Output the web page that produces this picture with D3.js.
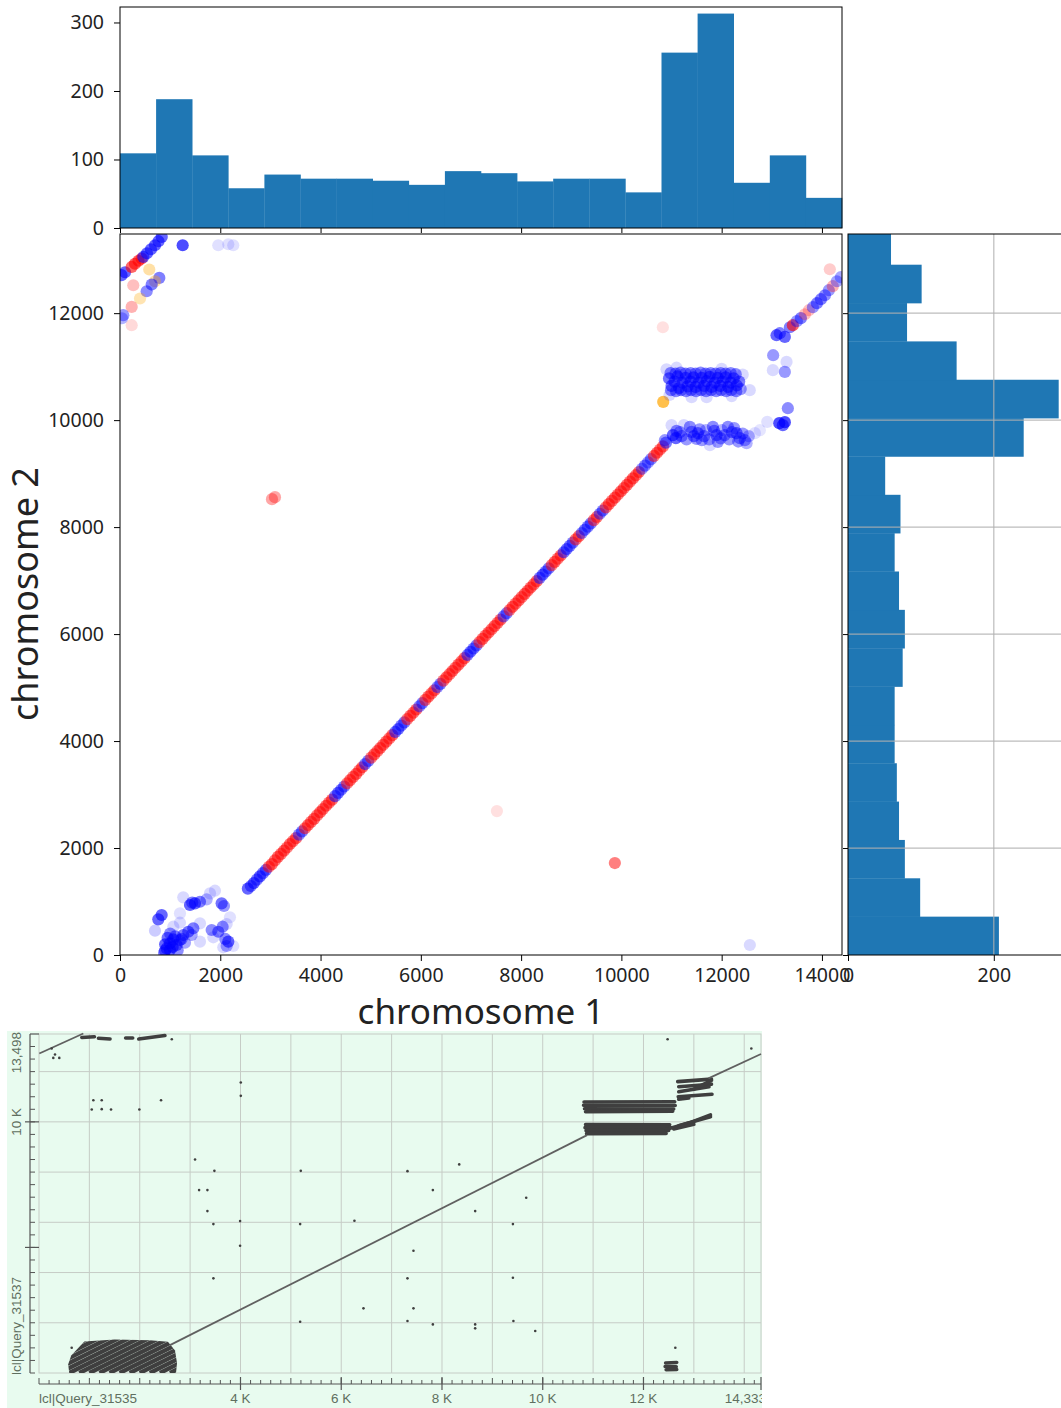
<!DOCTYPE html>
<html>
<head>
<meta charset="utf-8">
<script src="https://cdn.jsdelivr.net/npm/d3@7"></script>
<style>
body { margin: 0; background: #fff; }
svg text { font-family: "Noto Sans", sans-serif; }
.blast text { font-family: "Liberation Sans", Arial, sans-serif; }
</style>
</head>
<body>
<svg id="chart" width="1061" height="1408"></svg>
<script>
// ---------- histogram data ----------
var topEdges = [0,720,1440,2160,2880,3600,4320,5040,5760,6480,7200,7920,8640,9360,10080,10800,11520,12240,12960,13680,14400];
var topCounts = [109,188,106,58,78,72,72,69,63,83,80,68,72,72,52,256,313,66,106,44];
var rightEdges = [0,717,1434,2151,2868,3585,4302,5019,5736,6453,7170,7887,8604,9321,10038,10755,11472,12189,12906,13623];
var rightCounts = [207,99,78,70,67,64,64,75,78,70,64,72,51,241,289,149,81,101,59];

var xTicks = [0,2000,4000,6000,8000,10000,12000,14000];
var yTicks = [0,2000,4000,6000,8000,10000,12000];
var topTicks = [0,100,200,300];
var rightTicks = [0,200];

// ---------- scatter data: [chr1, chr2, colour, alpha] ----------
var diagPts = [
[2550,1240,"b",.6],[2670,1345,"b",.6],[2790,1470,"b",.6],[2910,1590,"b",.55],
[3030,1700,"r",.55],[3150,1835,"r",.55],[3270,1950,"r",.55],[3390,2075,"r",.55],
[3510,2185,"r",.55],[3630,2310,"b",.5],[3750,2430,"r",.55],[3870,2545,"r",.55],
[3990,2670,"r",.55],[4110,2790,"r",.55],[4230,2905,"r",.55],[4350,3030,"b",.55],
[4470,3150,"b",.5],[4590,3270,"r",.55],[4710,3385,"r",.55],[4830,3510,"r",.55],
[4950,3630,"b",.5],[5070,3750,"r",.55],[5190,3870,"r",.55],[5310,3990,"r",.55],
[5430,4110,"r",.55],[5550,4225,"b",.55],[5670,4350,"b",.5],[5790,4470,"r",.55],
[5910,4590,"r",.55],[6030,4710,"b",.5],[6150,4830,"r",.55],[6270,4950,"r",.55],
[6390,5070,"b",.5],[6510,5190,"r",.55],[6630,5310,"r",.55],[6750,5430,"r",.55],
[6870,5550,"r",.55],[6990,5670,"b",.55],[7110,5790,"b",.5],[7230,5910,"r",.55],
[7350,6030,"r",.55],[7470,6150,"r",.55],[7590,6270,"r",.55],[7710,6390,"b",.5],
[7830,6510,"r",.55],[7950,6630,"r",.55],[8070,6750,"r",.55],[8190,6870,"r",.55],
[8310,6990,"r",.55],[8430,7110,"b",.55],[8550,7230,"b",.5],[8670,7350,"r",.55],
[8790,7470,"r",.55],[8910,7590,"b",.55],[9030,7710,"b",.5],[9150,7830,"r",.55],
[9270,7950,"b",.5],[9390,8070,"b",.5],[9510,8190,"r",.55],[9630,8310,"b",.5],
[9750,8430,"r",.55],[9870,8550,"r",.55],[9990,8670,"r",.55],[10110,8790,"r",.55],
[10230,8910,"r",.55],[10350,9030,"r",.55],[10470,9150,"b",.45],[10590,9270,"b",.45],
[10710,9390,"r",.55],[10830,9510,"r",.5]
];
var diagPtsMid = [
[2610,1290,"b",.5],[2730,1410,"b",.5],[2850,1530,"b",.5],[2970,1650,"r",.5],
[3090,1770,"r",.5],[3210,1890,"r",.5],[3330,2010,"r",.5],[3450,2130,"r",.5],
[3570,2250,"b",.45],[3690,2370,"r",.5],[3810,2490,"r",.5],[3930,2610,"r",.5],
[4050,2730,"r",.5],[4170,2850,"r",.5],[4290,2970,"b",.5],[4410,3090,"b",.5],
[4530,3210,"r",.5],[4650,3330,"r",.5],[4770,3450,"r",.5],[4890,3570,"b",.5],
[5010,3690,"r",.5],[5130,3810,"r",.5],[5250,3930,"r",.5],[5370,4050,"r",.5],
[5490,4170,"b",.5],[5610,4290,"b",.5],[5730,4410,"r",.5],[5850,4530,"r",.5],
[5970,4650,"b",.45],[6090,4770,"r",.5],[6210,4890,"r",.5],[6330,5010,"b",.45],
[6450,5130,"r",.5],[6570,5250,"r",.5],[6690,5370,"r",.5],[6810,5490,"r",.5],
[6930,5610,"b",.5],[7050,5730,"b",.5],[7170,5850,"r",.5],[7290,5970,"r",.5],
[7410,6090,"r",.5],[7530,6210,"r",.5],[7650,6330,"b",.45],[7770,6450,"r",.5],
[7890,6570,"r",.5],[8010,6690,"r",.5],[8130,6810,"r",.5],[8250,6930,"r",.5],
[8370,7050,"b",.5],[8490,7170,"b",.5],[8610,7290,"r",.5],[8730,7410,"r",.5],
[8850,7530,"b",.5],[8970,7650,"b",.5],[9090,7770,"r",.5],[9210,7890,"b",.45],
[9330,8010,"b",.5],[9450,8130,"r",.5],[9570,8250,"b",.45],[9690,8370,"r",.5],
[9810,8490,"r",.5],[9930,8610,"r",.5],[10050,8730,"r",.5],[10170,8850,"r",.5],
[10290,8970,"r",.5],[10410,9090,"b",.4],[10530,9210,"b",.4],[10650,9330,"r",.5],
[10770,9450,"r",.5],[10890,9580,"b",.5]
];

var bandHighPts = [
[10950,10780,"b",.55],[11000,10640,"b",.55],[11060,10720,"b",.55],[11120,10820,"b",.55],
[11150,10600,"b",.55],[11220,10700,"b",.55],[11280,10790,"b",.55],[11320,10630,"b",.55],
[11380,10720,"b",.55],[11440,10800,"b",.55],[11480,10620,"b",.55],[11540,10700,"b",.55],
[11600,10790,"b",.55],[11650,10640,"b",.55],[11700,10730,"b",.55],[11760,10810,"b",.55],
[11800,10620,"b",.55],[11860,10700,"b",.55],[11920,10790,"b",.55],[11970,10640,"b",.55],
[12020,10720,"b",.55],[12080,10800,"b",.55],[12130,10620,"b",.55],[12180,10700,"b",.55],
[12240,10780,"b",.55],[12300,10650,"b",.55],[12350,10720,"b",.5],
[10980,10880,"b",.45],[11080,10870,"b",.45],[11180,10890,"b",.45],[11280,10870,"b",.45],
[11380,10880,"b",.45],[11480,10870,"b",.45],[11580,10890,"b",.45],[11680,10870,"b",.45],
[11780,10880,"b",.45],[11880,10870,"b",.45],[11980,10880,"b",.45],[12080,10870,"b",.45],
[12180,10880,"b",.45],[12280,10860,"b",.45],
[10990,10560,"b",.45],[11090,10540,"b",.45],[11190,10560,"b",.45],[11290,10540,"b",.45],
[11390,10560,"b",.45],[11490,10540,"b",.45],[11590,10560,"b",.45],[11690,10540,"b",.45],
[11790,10560,"b",.45],[11890,10540,"b",.45],[11990,10560,"b",.45],[12090,10540,"b",.45],
[12190,10560,"b",.45],[12290,10540,"b",.45],[12380,10580,"b",.4],
[10900,10950,"b",.15],[11100,10980,"b",.15],[11400,10430,"b",.15],[11700,10430,"b",.15],
[12000,10960,"b",.15],[12420,10850,"b",.15],[12560,10560,"b",.15],[12200,10450,"b",.15],
[10960,10470,"b",.15]
];

var bandLowPts = [
[11001,9906,"b",.15],[11027,9719,"b",.6],[11087,9663,"b",.6],[11167,9775,"b",.4],
[11366,9874,"b",.45],[11446,9700,"b",.5],[11525,9756,"b",.5],[11605,9625,"b",.4],
[11685,9812,"b",.3],[11825,9874,"b",.45],[11898,9719,"b",.5],[11924,9594,"b",.4],
[12004,9812,"b",.3],[12124,9874,"b",.45],[12204,9775,"b",.45],[12297,9756,"b",.5],
[12363,9663,"b",.45],[12463,9625,"b",.4],[12497,9569,"b",.3],[12663,9756,"b",.12],
[12762,9812,"b",.1],[11246,9906,"b",.15],[11765,9532,"b",.15],[10867,9625,"b",.4],
[11100,9800,"b",.45],[11200,9700,"b",.45],[11300,9640,"b",.4],[11400,9780,"b",.45],
[11500,9650,"b",.4],[11560,9830,"b",.4],[11650,9700,"b",.45],[11750,9640,"b",.4],
[11850,9800,"b",.45],[11980,9660,"b",.4],[12060,9720,"b",.45],[12150,9640,"b",.4],
[12250,9850,"b",.4],[12330,9600,"b",.4],[12420,9750,"b",.4],[12540,9700,"b",.3]
];

var upperRightPts = [
[13094,11588,"b",.6],[13260,11556,"b",.6],[13160,11625,"b",.5],[13027,11214,"b",.4],
[13294,11089,"b",.15],[13021,10934,"b",.15],[13260,10902,"b",.4],[13320,10223,"b",.45],
[12909,9968,"b",.12],[13149,9943,"b",.7],[13260,9962,"b",.7],[13220,9906,"b",.6],
[13360,11737,"b",.5],[13420,11775,"r",.6],[13500,11850,"b",.4],[13580,11906,"b",.5],
[13660,11980,"r",.25],[13740,12055,"r",.25],[13820,12111,"b",.4],[13900,12186,"b",.5],
[13980,12261,"b",.5],[14060,12335,"b",.45],[14137,12429,"b",.4],[14217,12504,"r",.3],
[14297,12597,"b",.35],[14377,12672,"b",.35],[14157,12821,"r",.2]
];

var cornerPts = [
[30,12710,"b",.6],[100,12765,"b",.6],[233,12864,"r",.6],[299,12924,"r",.6],
[369,12980,"r",.6],[433,13021,"r",.55],[465,13051,"b",.55],[538,13120,"b",.6],
[618,13195,"b",.6],[698,13270,"b",.6],[768,13345,"b",.6],[832,13425,"b",.6],
[1250,13270,"b",.7],[1960,13270,"b",.12],[2160,13288,"b",.12],[2259,13270,"b",.12],
[584,12816,"o",.35],[265,12522,"r",.25],[784,12659,"b",.5],[698,12597,"o",.35],
[632,12535,"b",.5],[532,12410,"b",.45],[399,12274,"o",.3],[233,12117,"r",.3],
[66,11962,"b",.4],[40,11905,"b",.3],[233,11775,"r",.15]
];

var clusterPts = [
[831,748,"b",.6],[764,667,"b",.6],[698,454,"b",.2],[931,125,"b",.6],[997,219,"b",.6],
[1063,293,"b",.6],[1130,187,"b",.55],[1196,280,"b",.5],[1262,374,"b",.5],[1362,435,"b",.55],
[1462,499,"b",.5],[1429,374,"b",.35],[1296,230,"b",.35],[997,93,"b",.6],[897,80,"b",.5],
[1496,966,"b",.6],[1595,996,"b",.5],[1396,935,"b",.6],[1262,1078,"b",.15],[1728,1041,"b",.3],
[1894,1202,"b",.15],[1795,1153,"b",.15],[2027,966,"b",.55],[2074,916,"b",.4],[1828,467,"b",.45],
[1961,435,"b",.5],[2047,529,"b",.45],[2127,579,"b",.15],[2160,249,"b",.6],[2127,168,"b",.35],
[2193,705,"b",.12],[1595,592,"b",.15],[1196,604,"b",.15],[1063,529,"b",.15],[1595,249,"b",.15],
[1861,331,"b",.15],[2060,144,"b",.15],[2259,168,"b",.12],[1196,779,"b",.12],
[900,200,"b",.6],[950,320,"b",.55],[1050,150,"b",.6],[1100,350,"b",.5],[1000,400,"b",.45],
[880,40,"b",.5],[1150,90,"b",.45],[1230,300,"b",.45],[1440,980,"b",.5],[2100,300,"b",.45]
];

var strayPts = [
[10834,10341,"o",.7],[10827,11737,"r",.12],[12562,187,"b",.15],[9870,1719,"r",.5],
[7517,2691,"r",.12],[3091,8560,"r",.35],[3031,8523,"r",.35]
];

// ---------- BLAST dot plot data ----------
var blastLines = [[2600,1110,10880,9470],[13290,11730,14333,12700],[6,12722,880,13518]];
var blastHatch = [
[2600,0,3000,400],[2400,0,3000,600],[2200,0,3000,800],[2000,0,3000,1000],[1800,0,3000,1200],
[1600,0,3000,1400],[1400,0,2800,1400],[1200,0,2600,1400],[1000,0,2400,1400],[800,0,2200,1400],
[600,0,2000,1400],[400,0,1800,1400],[200,0,1600,1400],[0,0,1400,1400],[0,200,1200,1400],
[0,400,1000,1400],[0,600,800,1400]
];
var blastBlockOutline = [[600,0],[580,350],[640,700],[900,1250],[1500,1330],[2200,1300],[2560,1240],[2700,900],[2740,400],[2720,0]];
var blastBands = [
[10820,10790,12620,10800],[10810,10660,12630,10650],[10830,10520,12600,10510],[10850,10400,12580,10420],
[10850,9890,12520,9880],[10840,9770,12540,9770],[10860,9650,12500,9660],[10870,9530,12450,9540],
[12450,9700,12900,9950],[12700,9850,13330,10200],[12900,9950,13330,10280],[12600,9720,13000,9900],
[12680,11600,13350,11700],[12700,11400,13350,11500],[12700,11200,13300,11400],[12690,11000,13360,11100],
[12700,10900,12900,10950],[13000,11300,13350,11650],
[12440,400,12660,420],[12430,260,12650,250],[12450,130,12660,140],
[850,13360,1100,13390],[1180,13330,1410,13300],[1720,13340,1860,13340],[1980,13300,2500,13440]
];
var blastDots = [
[649,1007],[12632,1007],[12479,13291],[14141,12921],[2636,13291],
[252,12921],[318,12682],[403,12547],[284,12547],
[7315,8038],[8342,8305],[7819,7282],[8659,6446],[9672,6976],[9408,5929],[7434,4868],
[7315,3768],[9408,3793],[7434,2574],[7315,2069],[7819,1936],[8659,1936],[8659,1778],
[9418,2069],[9851,1671],
[4006,11567],[4006,11035],[1079,10863],[1245,10863],[2423,10863],[1047,10493],[1245,10505],
[1430,10493],[1992,10493],[3098,8503],[3482,8050],[5197,8050],[3178,7282],[3343,7282],
[3343,6446],[3462,5929],[3992,6049],[5184,5929],[6262,6061],[3992,5066],[3462,3768],
[6441,2574],[5184,2041]
];
var blastXTicks = [4000,6000,8000,10000,12000];
var blastXLabels = ["4 K","6 K","8 K","10 K","12 K"];
var blastYMajor = [5000,10000];

var colour = {b: "#0000ff", r: "#ff0000", o: "#ffa500"};

var svg = d3.select("#chart");

// ---------- scales ----------
var x = d3.scaleLinear().domain([0, 14400]).range([120, 842]);
var y = d3.scaleLinear().domain([0, 13480]).range([955, 234]);
var yTop = d3.scaleLinear().domain([0, 322.6]).range([228, 7]);
var xRight = d3.scaleLinear().domain([0, 310]).range([848, 1074]);
var plain = d3.format("d");

var defs = svg.append("defs");
defs.append("clipPath").attr("id", "clipScatter").append("rect")
	.attr("x", 120).attr("y", 234).attr("width", 722).attr("height", 721);
defs.append("clipPath").attr("id", "clipRight").append("rect")
	.attr("x", 848).attr("y", 234).attr("width", 240).attr("height", 721);

function styleAxis(g, size){
	g.select(".domain").remove();
	g.selectAll(".tick line").attr("stroke", "#000").attr("stroke-width", 1);
	g.selectAll(".tick text").attr("font-size", size).attr("fill", "#222")
		.attr("font-family", "Noto Sans, sans-serif");
}

// ---------- top histogram ----------
var topG = svg.append("g");
topG.selectAll("rect.bar").data(topCounts).enter().append("rect")
	.attr("class", "bar")
	.attr("x", function(d, i){ return x(topEdges[i]); })
	.attr("width", function(d, i){ return x(topEdges[i+1]) - x(topEdges[i]) + 0.3; })
	.attr("y", function(d){ return yTop(d); })
	.attr("height", function(d){ return yTop(0) - yTop(d); })
	.attr("fill", "#1f77b4");
topG.append("g").attr("transform", "translate(120,0)")
	.call(d3.axisLeft(yTop).tickValues(topTicks).tickSize(6).tickPadding(10).tickFormat(plain))
	.call(styleAxis, 19.5);
topG.append("g").attr("transform", "translate(0,228)")
	.call(d3.axisBottom(x).tickValues(xTicks).tickSize(5).tickFormat(""))
	.call(styleAxis, 19.5);
topG.append("rect").attr("x", 120).attr("y", 7).attr("width", 722).attr("height", 221)
	.attr("fill", "none").attr("stroke", "#000").attr("stroke-width", 1);

// ---------- scatter ----------
var scG = svg.append("g");
var ptsG = scG.append("g").attr("clip-path", "url(#clipScatter)");
[strayPts, cornerPts, clusterPts, diagPts, diagPtsMid, bandLowPts, bandHighPts, upperRightPts].forEach(function(set){
	ptsG.selectAll(null).data(set).enter().append("circle")
		.attr("cx", function(d){ return x(d[0]); })
		.attr("cy", function(d){ return y(d[1]); })
		.attr("r", 6.1)
		.attr("fill", function(d){ return colour[d[2]]; })
		.attr("fill-opacity", function(d){ return d[3]; });
});
scG.append("g").attr("transform", "translate(120,0)")
	.call(d3.axisLeft(y).tickValues(yTicks).tickSize(6).tickPadding(10).tickFormat(plain))
	.call(styleAxis, 19.5);
scG.append("g").attr("transform", "translate(0,955)")
	.call(d3.axisBottom(x).tickValues(xTicks).tickSize(6).tickPadding(7).tickFormat(plain))
	.call(styleAxis, 19.5);
scG.append("rect").attr("x", 120).attr("y", 234).attr("width", 722).attr("height", 721)
	.attr("fill", "none").attr("stroke", "#000").attr("stroke-width", 1);

scG.append("text").attr("x", 481).attr("y", 1024).attr("text-anchor", "middle")
	.attr("font-size", 35).attr("fill", "#222").text("chromosome 1");
scG.append("text").attr("transform", "translate(38,594) rotate(-90)").attr("text-anchor", "middle")
	.attr("font-size", 36).attr("fill", "#222").text("chromosome 2");

// ---------- right histogram ----------
var rG = svg.append("g");
rG.append("g").attr("clip-path", "url(#clipRight)")
	.selectAll("rect").data(rightCounts).enter().append("rect")
	.attr("x", xRight(0))
	.attr("width", function(d){ return xRight(d) - xRight(0); })
	.attr("y", function(d, i){ return y(rightEdges[i+1]); })
	.attr("height", function(d, i){ return y(rightEdges[i]) - y(rightEdges[i+1]) + 0.3; })
	.attr("fill", "#1f77b4");
rG.selectAll("line.hgrid").data(yTicks.slice(1)).enter().append("line")
	.attr("x1", 848).attr("x2", 1074)
	.attr("y1", function(d){ return y(d); }).attr("y2", function(d){ return y(d); })
	.attr("stroke", "#b0b0b0").attr("stroke-opacity", 0.85).attr("stroke-width", 1.2);
rG.selectAll("line.vgrid").data(rightTicks.slice(1)).enter().append("line")
	.attr("y1", 234).attr("y2", 955)
	.attr("x1", function(d){ return xRight(d); }).attr("x2", function(d){ return xRight(d); })
	.attr("stroke", "#b0b0b0").attr("stroke-opacity", 0.85).attr("stroke-width", 1.2);
rG.append("g").attr("transform", "translate(848,0)")
	.call(d3.axisLeft(y).tickValues(yTicks).tickSize(5).tickFormat(""))
	.call(styleAxis, 19.5);
rG.append("g").attr("transform", "translate(0,955)")
	.call(d3.axisBottom(xRight).tickValues(rightTicks).tickSize(6).tickPadding(7).tickFormat(plain))
	.call(styleAxis, 19.5);
rG.append("rect").attr("x", 848).attr("y", 234).attr("width", 226).attr("height", 721)
	.attr("fill", "none").attr("stroke", "#000").attr("stroke-width", 1);

// ---------- BLAST dot plot ----------
var bx = d3.scaleLinear().domain([0, 14333]).range([39, 761]);
var by = d3.scaleLinear().domain([0, 13498]).range([1373, 1034]);

defs.append("clipPath").attr("id", "clipBlast").append("rect")
	.attr("x", 7).attr("y", 1031).attr("width", 755).attr("height", 377);
defs.append("clipPath").attr("id", "clipBlock").append("polygon")
	.attr("points", blastBlockOutline.map(function(p){ return bx(p[0]) + "," + by(p[1]); }).join(" "));

var bG = svg.append("g").attr("class", "blast").attr("clip-path", "url(#clipBlast)");
bG.append("rect").attr("x", 7).attr("y", 1031).attr("width", 755).attr("height", 377).attr("fill", "#e8fbef");

var gridCol = "#c6ccc6";
bG.selectAll("line.bvg").data(d3.range(1000, 14001, 1000)).enter().append("line")
	.attr("x1", function(d){ return bx(d); }).attr("x2", function(d){ return bx(d); })
	.attr("y1", by(13498)).attr("y2", by(0)).attr("stroke", gridCol).attr("stroke-width", 1);
bG.selectAll("line.bhg").data(d3.range(2000, 12001, 2000)).enter().append("line")
	.attr("y1", function(d){ return by(d); }).attr("y2", function(d){ return by(d); })
	.attr("x1", bx(0)).attr("x2", bx(14333)).attr("stroke", gridCol).attr("stroke-width", 1);
bG.append("rect").attr("x", bx(0)).attr("y", by(13498)).attr("width", bx(14333) - bx(0))
	.attr("height", by(0) - by(13498)).attr("fill", "none").attr("stroke", gridCol);

var ink = "#3f3f3f";
bG.append("g").attr("clip-path", "url(#clipBlock)")
	.selectAll("line").data(blastHatch).enter().append("line")
	.attr("x1", function(d){ return bx(d[0]); }).attr("y1", function(d){ return by(d[1]); })
	.attr("x2", function(d){ return bx(d[2]); }).attr("y2", function(d){ return by(d[3]); })
	.attr("stroke", ink).attr("stroke-width", 4.3);
bG.selectAll("line.band").data(blastBands).enter().append("line")
	.attr("x1", function(d){ return bx(d[0]); }).attr("y1", function(d){ return by(d[1]); })
	.attr("x2", function(d){ return bx(d[2]); }).attr("y2", function(d){ return by(d[3]); })
	.attr("stroke", ink).attr("stroke-width", 3.6).attr("stroke-linecap", "round");
bG.selectAll("line.main").data(blastLines).enter().append("line")
	.attr("x1", function(d){ return bx(d[0]); }).attr("y1", function(d){ return by(d[1]); })
	.attr("x2", function(d){ return bx(d[2]); }).attr("y2", function(d){ return by(d[3]); })
	.attr("stroke", "#606060").attr("stroke-width", 1.8);
bG.selectAll("circle").data(blastDots).enter().append("circle")
	.attr("cx", function(d){ return bx(d[0]); }).attr("cy", function(d){ return by(d[1]); })
	.attr("r", 1.3).attr("fill", ink);

// x axis of dot plot
var axCol = "#555";
var axY = 1384;
bG.append("line").attr("x1", bx(0)).attr("x2", bx(14333)).attr("y1", axY).attr("y2", axY)
	.attr("stroke", axCol).attr("stroke-width", 1.2);
bG.selectAll("line.bxt").data(d3.range(0, 14333, 200)).enter().append("line")
	.attr("x1", function(d){ return bx(d); }).attr("x2", function(d){ return bx(d); })
	.attr("y1", axY).attr("y2", function(d){ return d % 1000 === 0 ? axY - 6 : axY - 4; })
	.attr("stroke", axCol).attr("stroke-width", 1);
bG.selectAll("line.bxm").data(blastXTicks.concat([14333])).enter().append("line")
	.attr("x1", function(d){ return bx(d); }).attr("x2", function(d){ return bx(d); })
	.attr("y1", axY - 7).attr("y2", axY + 6).attr("stroke", axCol).attr("stroke-width", 1.2);
var labCol = "#5f6f60";
bG.selectAll("text.bxl").data(blastXTicks).enter().append("text")
	.attr("x", function(d){ return bx(d); }).attr("y", 1403).attr("text-anchor", "middle")
	.attr("font-size", 13.5).attr("fill", labCol)
	.text(function(d, i){ return blastXLabels[i]; });
bG.append("text").attr("x", bx(0)).attr("y", 1403).attr("font-size", 13.5).attr("fill", labCol)
	.text("lcl|Query_31535");
bG.append("text").attr("x", 766).attr("y", 1403).attr("text-anchor", "end")
	.attr("font-size", 13.5).attr("fill", labCol).text("14,333");

// y axis of dot plot
var axX = 30;
bG.append("line").attr("x1", axX).attr("x2", axX).attr("y1", by(13498)).attr("y2", by(0))
	.attr("stroke", axCol).attr("stroke-width", 1.2);
bG.selectAll("line.byt").data(d3.range(0, 13498, 500)).enter().append("line")
	.attr("y1", function(d){ return by(d); }).attr("y2", function(d){ return by(d); })
	.attr("x1", axX).attr("x2", axX + 5).attr("stroke", axCol).attr("stroke-width", 1);
bG.selectAll("line.bym").data(blastYMajor.concat([13498])).enter().append("line")
	.attr("y1", function(d){ return by(d); }).attr("y2", function(d){ return by(d); })
	.attr("x1", function(d){ return d === 13498 ? axX : axX - 5; }).attr("x2", bx(0))
	.attr("stroke", axCol).attr("stroke-width", 1.2);
bG.append("text").attr("transform", "translate(21," + by(10000) + ") rotate(-90)")
	.attr("text-anchor", "middle").attr("font-size", 13.5).attr("fill", labCol).text("10 K");
bG.append("text").attr("transform", "translate(21," + (by(13498) - 2) + ") rotate(-90)")
	.attr("text-anchor", "end").attr("font-size", 13.5).attr("fill", labCol).text("13,498");
bG.append("text").attr("transform", "translate(21," + (by(0) + 2) + ") rotate(-90)")
	.attr("text-anchor", "start").attr("font-size", 13.5).attr("fill", labCol).text("lcl|Query_31537");
</script>
</body>
</html>
